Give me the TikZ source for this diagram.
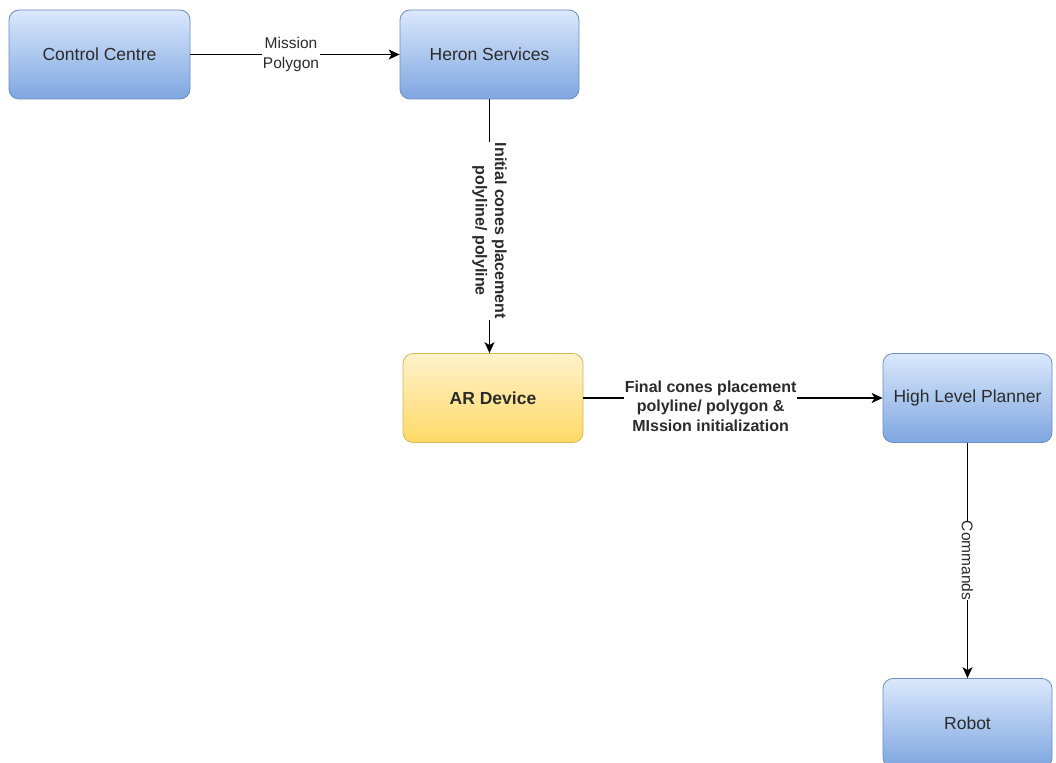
\documentclass[tikz,border=0pt]{standalone}
\usepackage{fontspec}
\setmainfont{Liberation Sans}
\usetikzlibrary{arrows.meta}
\definecolor{bluetop}{HTML}{DAE8FC}
\definecolor{bluebot}{HTML}{7EA6E0}
\definecolor{bluedraw}{HTML}{6C8EBF}
\definecolor{yeltop}{HTML}{FFF2CC}
\definecolor{yelbot}{HTML}{FFD966}
\definecolor{yeldraw}{HTML}{D6B656}
\definecolor{txt}{HTML}{2B2B2B}
\begin{document}
\begin{tikzpicture}[x=1pt,y=-1pt,
  box/.style={rounded corners=10pt, minimum height=89pt, inner sep=0pt,
    text=txt, line width=0.8pt, font=\fontsize{17.5}{21}\selectfont},
  bluebox/.style={box, draw=bluedraw, top color=bluetop, bottom color=bluebot},
  yelbox/.style={box, draw=yeldraw, top color=yeltop, bottom color=yelbot},
  conn/.style={line width=1.3pt, -{Stealth[length=11pt,width=10pt,inset=3pt]}},
  elabel/.style={fill=white, text=txt, inner sep=1pt, align=center,
    font=\fontsize{15.5}{20}\selectfont},
  blabel/.style={fill=white, text=txt, inner sep=1pt, align=center,
    font=\bfseries\fontsize{16}{19.5}\selectfont}
]
\useasboundingbox (0,0) rectangle (1056,762);
\clip (0,0) rectangle (1056,762);
\fill[white] (0,0) rectangle (1056,762);

\node[bluebox, minimum width=181pt] (cc) at (99.5,54.5) {Control Centre};
\node[bluebox, minimum width=179pt] (hs) at (489.5,54.5) {Heron Services};
\node[yelbox, minimum width=180pt, font=\bfseries\fontsize{17.5}{21}\selectfont] (ar) at (493,398) {AR Device};
\node[bluebox, minimum width=169pt] (hlp) at (967.5,398) {High Level Planner};
\node[bluebox, minimum width=169pt] (rb) at (967.5,723) {Robot};

\draw[conn] (cc) -- node[elabel, xshift=-4pt] {Mission\\Polygon} (hs);
\draw[conn] (hs.south) -- node[blabel, rotate=-90, pos=0.53, xshift=-3pt] {Initial cones placement\\polyline/ polyline} (hs.south |- ar.north);
\draw[conn] (ar) -- node[blabel, pos=0.425, yshift=-8pt] {Final cones placement\\polyline/ polygon \&\\MIssion initialization} (hlp);
\draw[conn] (hlp) -- node[elabel, rotate=-90, inner sep=0pt] {Commands} (rb);
\end{tikzpicture}
\end{document}
